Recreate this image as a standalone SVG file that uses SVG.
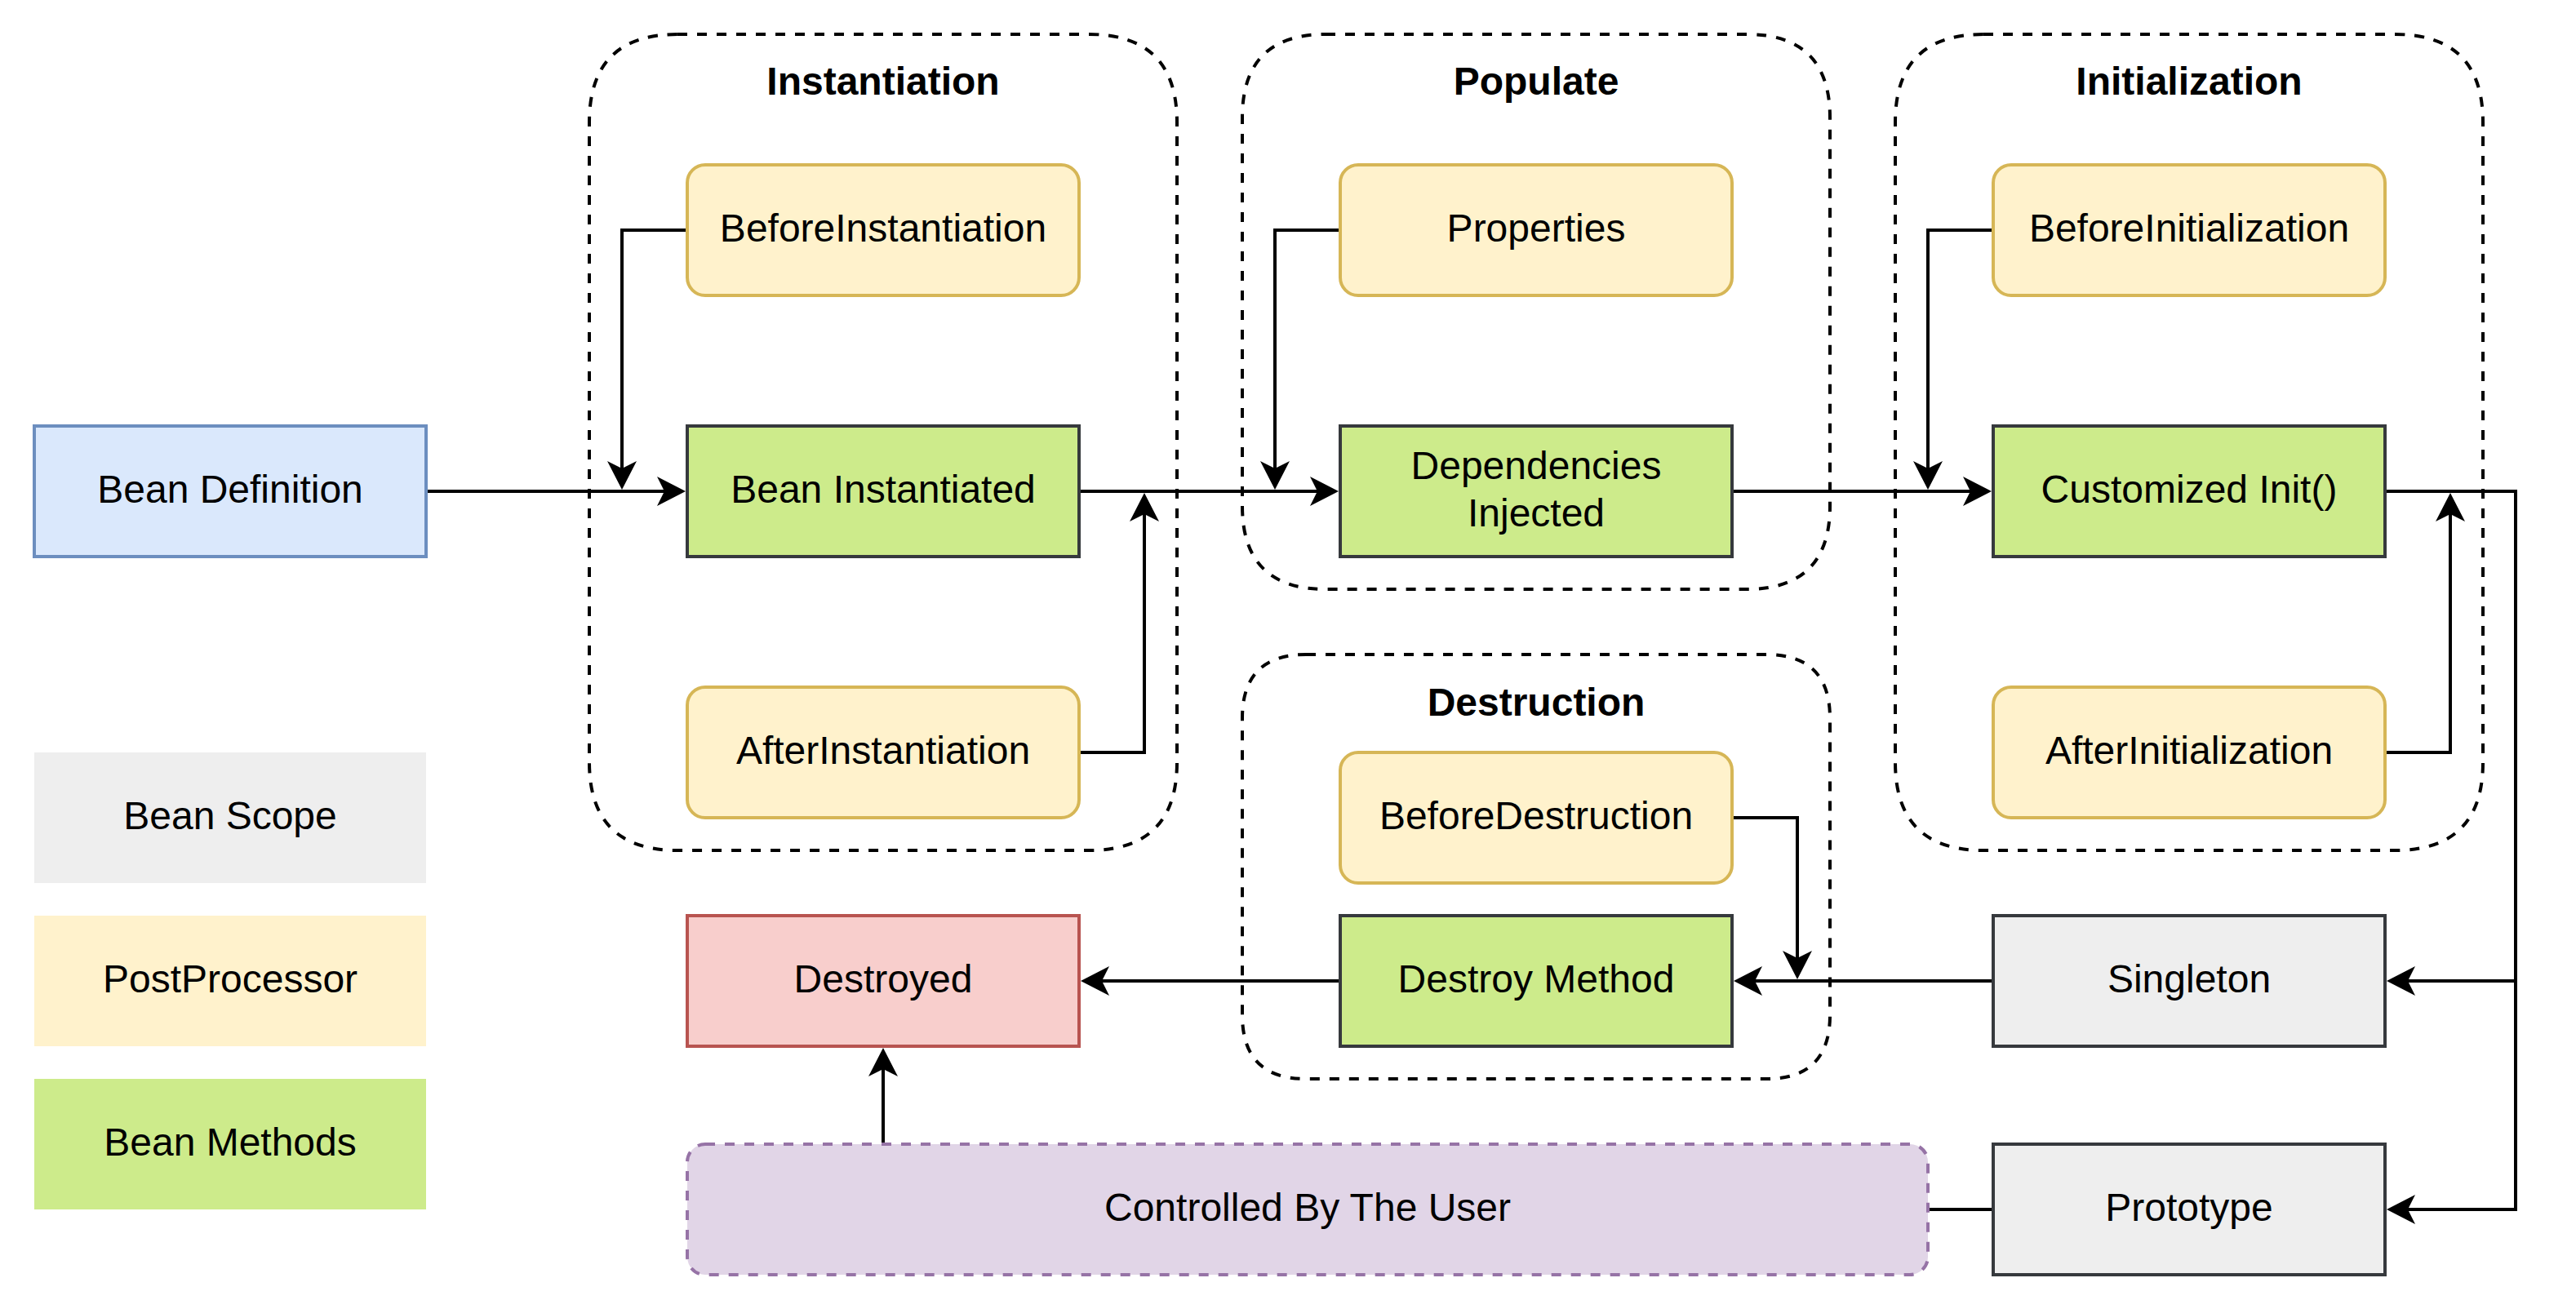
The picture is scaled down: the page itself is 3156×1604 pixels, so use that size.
<svg xmlns="http://www.w3.org/2000/svg" width="3156" height="1604" viewBox="0 0 3156 1604">
<style>
text{font-family:"Liberation Sans",Arial,Helvetica,sans-serif;font-size:48px;fill:#000;text-anchor:middle}
.title{font-weight:bold}
.cont{fill:none;stroke:#000;stroke-width:4;stroke-dasharray:12 12}
.pp{fill:#fff2cc;stroke:#d6b656;stroke-width:4}
.bm{fill:#cdeb8b;stroke:#36393d;stroke-width:4}
.sc{fill:#eeeeee;stroke:#36393d;stroke-width:4}
.def{fill:#dae8fc;stroke:#6c8ebf;stroke-width:4}
.des{fill:#f8cecc;stroke:#b85450;stroke-width:4}
.usr{fill:#e1d5e7;stroke:#9673a6;stroke-width:4;stroke-dasharray:12 12}
.edge{fill:none;stroke:#000;stroke-width:4}
.arr{marker-end:url(#ah)}
</style>
<defs>
<marker id="ah" markerUnits="userSpaceOnUse" markerWidth="36" markerHeight="36" viewBox="0 0 36 36" refX="15" refY="18" orient="auto">
<path d="M35,18 L0,0 L9,18 L0,36 Z" fill="#000"/>
</marker>
</defs>
<rect width="3156" height="1604" fill="#fff"/>

<g id="containers">
<g id="instantiation-group">
<path class="cont" d="M830,42 H1334 Q1442,42 1442,150 V934 Q1442,1042 1334,1042 H830 Q722,1042 722,934 V150 Q722,42 830,42 Z"/>
<text class="title" x="1082" y="116">Instantiation</text>
</g>
<g id="populate-group">
<path class="cont" d="M1624,42 H2140 Q2242,42 2242,144 V620 Q2242,722 2140,722 H1624 Q1522,722 1522,620 V144 Q1522,42 1624,42 Z"/>
<text class="title" x="1882" y="116">Populate</text>
</g>
<g id="initialization-group">
<path class="cont" d="M2430,42 H2934 Q3042,42 3042,150 V934 Q3042,1042 2934,1042 H2430 Q2322,1042 2322,934 V150 Q2322,42 2430,42 Z"/>
<text class="title" x="2682" y="116">Initialization</text>
</g>
<g id="destruction-group">
<path class="cont" d="M1600,802 H2164 Q2242,802 2242,880 V1244 Q2242,1322 2164,1322 H1600 Q1522,1322 1522,1244 V880 Q1522,802 1600,802 Z"/>
<text class="title" x="1882" y="877">Destruction</text>
</g>
</g>

<g id="connectors">
<path class="edge arr" d="M522,602 H820"/>
<path class="edge arr" d="M842,282 H762 V580"/>
<path class="edge arr" d="M1322,602 H1620"/>
<path class="edge arr" d="M1322,922 H1402 V624"/>
<path class="edge arr" d="M1642,282 H1562 V580"/>
<path class="edge arr" d="M2122,602 H2420"/>
<path class="edge arr" d="M2442,282 H2362 V580"/>
<path class="edge arr" d="M2922,922 H3002 V624"/>
<path class="edge arr" d="M2922,602 H3082 V1202 H2944"/>
<path class="edge arr" d="M3082,1202 V1482 H2944"/>
<path class="edge arr" d="M2442,1202 H2144"/>
<path class="edge arr" d="M2122,1002 H2202 V1180"/>
<path class="edge arr" d="M1642,1202 H1344"/>
<path class="edge arr" d="M1082,1402 V1304"/>
<path class="edge" d="M2442,1482 H2362"/>
</g>

<g id="bean-definition">
<rect class="def" x="42" y="522" width="480" height="160"/>
<text x="282" y="616">Bean Definition</text>
</g>
<g id="before-instantiation">
<rect class="pp" x="842" y="202" width="480" height="160" rx="22"/>
<text x="1082" y="296">BeforeInstantiation</text>
</g>
<g id="bean-instantiated">
<rect class="bm" x="842" y="522" width="480" height="160"/>
<text x="1082" y="616">Bean Instantiated</text>
</g>
<g id="after-instantiation">
<rect class="pp" x="842" y="842" width="480" height="160" rx="22"/>
<text x="1082" y="936">AfterInstantiation</text>
</g>
<g id="properties">
<rect class="pp" x="1642" y="202" width="480" height="160" rx="22"/>
<text x="1882" y="296">Properties</text>
</g>
<g id="dependencies-injected">
<rect class="bm" x="1642" y="522" width="480" height="160"/>
<text x="1882" y="587">Dependencies</text>
<text x="1882" y="645">Injected</text>
</g>
<g id="before-initialization">
<rect class="pp" x="2442" y="202" width="480" height="160" rx="22"/>
<text x="2682" y="296">BeforeInitialization</text>
</g>
<g id="customized-init">
<rect class="bm" x="2442" y="522" width="480" height="160"/>
<text x="2682" y="616">Customized Init()</text>
</g>
<g id="after-initialization">
<rect class="pp" x="2442" y="842" width="480" height="160" rx="22"/>
<text x="2682" y="936">AfterInitialization</text>
</g>
<g id="before-destruction">
<rect class="pp" x="1642" y="922" width="480" height="160" rx="22"/>
<text x="1882" y="1016">BeforeDestruction</text>
</g>
<g id="destroy-method">
<rect class="bm" x="1642" y="1122" width="480" height="160"/>
<text x="1882" y="1216">Destroy Method</text>
</g>
<g id="destroyed">
<rect class="des" x="842" y="1122" width="480" height="160"/>
<text x="1082" y="1216">Destroyed</text>
</g>
<g id="controlled-by-user">
<rect class="usr" x="842" y="1402" width="1520" height="160" rx="22"/>
<text x="1602" y="1496">Controlled By The User</text>
</g>
<g id="singleton">
<rect class="sc" x="2442" y="1122" width="480" height="160"/>
<text x="2682" y="1216">Singleton</text>
</g>
<g id="prototype">
<rect class="sc" x="2442" y="1402" width="480" height="160"/>
<text x="2682" y="1496">Prototype</text>
</g>
<g id="legend-bean-scope">
<rect x="42" y="922" width="480" height="160" fill="#eeeeee"/>
<text x="282" y="1016">Bean Scope</text>
</g>
<g id="legend-postprocessor">
<rect x="42" y="1122" width="480" height="160" fill="#fff2cc"/>
<text x="282" y="1216">PostProcessor</text>
</g>
<g id="legend-bean-methods">
<rect x="42" y="1322" width="480" height="160" fill="#cdeb8b"/>
<text x="282" y="1416">Bean Methods</text>
</g>
</svg>
